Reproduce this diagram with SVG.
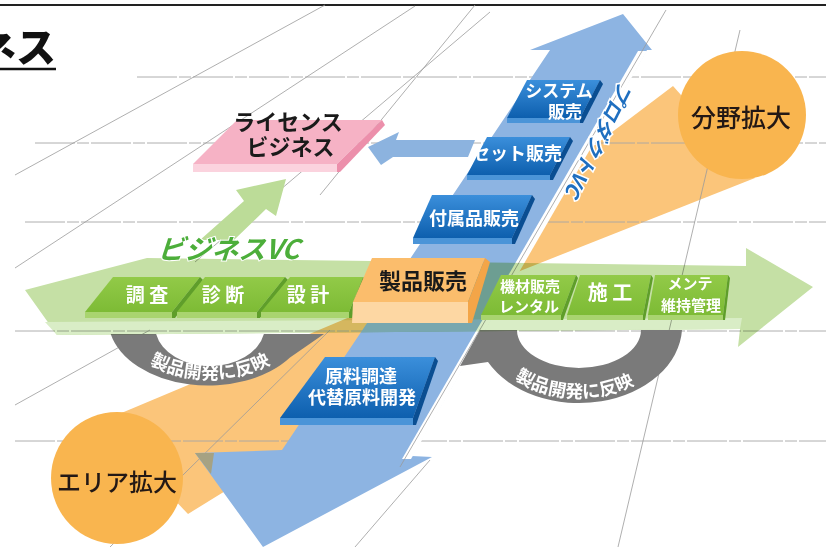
<svg xmlns="http://www.w3.org/2000/svg" width="826" height="547" viewBox="0 0 826 547">
<defs>
<linearGradient id="bgrad" x1="0" y1="0" x2="0" y2="1"><stop offset="0" stop-color="#3b8fdb"/><stop offset="1" stop-color="#0d5fae"/></linearGradient>
<linearGradient id="ggrad" x1="0" y1="0" x2="0" y2="1"><stop offset="0" stop-color="#92ca48"/><stop offset="1" stop-color="#7dbb35"/></linearGradient>
</defs>
<style>
text{font-family:"Noto Sans CJK JP","Noto Sans CJK SC",sans-serif}
.grid{stroke:#9a9a9a;stroke-width:0.8;fill:none}
.hgrid{stroke:#a5a5a5;stroke-width:0.9;fill:none;stroke-dasharray:40 2 12 2}
.beam{fill:#fbc57a}
.circ{fill:#f9b54f}
.gtop{fill:url(#ggrad)}
.gside{fill:#5f9e2a}
.gfront{fill:#a9d46f}
.btop{fill:url(#bgrad)}
.bside{fill:#0a4e92}
.bfront{fill:#4a94d8}
.wlab{fill:#fff;font-weight:700;text-anchor:middle}
.klab{fill:#1a1a1a;font-weight:700;text-anchor:middle}
.arc{fill:#7a7a7a}
.arctxt{fill:#fff;font-weight:700;font-size:18px}
</style>
<rect width="826" height="547" fill="#fff"/>
<line x1="0" y1="5" x2="826" y2="5" stroke="#222" stroke-width="2"/>
<g id="title">
<text x="56" y="62" font-size="40" font-weight="900" text-anchor="end" fill="#111">ネス</text>
<line x1="0" y1="69" x2="56" y2="69" stroke="#111" stroke-width="2.5"/>
</g>
<g id="beams">
<polygon class="beam" points="673,86 755,178 482,286 440,262"/>
<polygon class="beam" points="100,422 395,298 440,358 188,514"/>
</g>
<g id="gridlines">
<line class="hgrid" x1="137" y1="77" x2="826" y2="77"/>
<line class="hgrid" x1="35" y1="143" x2="826" y2="143"/>
<line class="hgrid" x1="25" y1="222" x2="826" y2="222"/>
<line class="hgrid" x1="15" y1="331" x2="826" y2="331"/>
<line class="hgrid" x1="15" y1="441" x2="826" y2="441"/>
<line class="grid" x1="15" y1="175" x2="325" y2="5"/>
<line class="grid" x1="15" y1="268" x2="415" y2="6"/>
<line class="grid" x1="15" y1="405" x2="150" y2="330"/>
<line class="grid" x1="110" y1="547" x2="330" y2="330"/>
<line class="grid" x1="195" y1="262" x2="490" y2="12"/>
<line class="grid" x1="320" y1="195" x2="475" y2="5"/>
<line class="grid" x1="740" y1="30" x2="618" y2="547"/>
<line class="grid" x1="355" y1="547" x2="430" y2="460"/>
</g>
<g id="product-arrow">
<polygon points="550,50 530,50 623,14 652,50 647,50 412,456 432,457 263,547 195,453 282,450" fill="#8db4e2"/>
<polygon points="195,453 214,453 211,474" fill="#a6a283"/>
<polygon points="638,51 647,51 411,459 402,459" fill="#fff"/>
<line class="grid" x1="666" y1="10" x2="400" y2="467"/>
</g>
<g id="arcs">
<path class="arc" d="M110.7,334 A100 66 0 0 0 290,357.6 L324,334 L263.9,334 A55 40 0 0 1 156.1,334 Z"/>
<path id="lp" d="M118,318 A92 61 0 0 0 302,318" fill="none"/>
<text class="arctxt"><textPath href="#lp" startOffset="50%" text-anchor="middle">製品開発に反映</textPath></text>
<path class="arc" d="M682,330 A103 77 0 0 1 488,362 L460,366 L480,330 L517,330 A62 38 0 0 0 641,330 Z"/>
<path id="rp" d="M485,328 A94 70 0 0 0 673,328" fill="none"/>
<text class="arctxt"><textPath href="#rp" startOffset="48%" text-anchor="middle">製品開発に反映</textPath></text>
</g>
<g id="business-arrow" style="mix-blend-mode:multiply">
<polygon points="25,290 147,258 746,266 746,248 813,287 738,347 740,329 57,335" fill="#c5e0a5"/>
<polygon points="45,322 742,318 740,329 57,335" fill="#d9edc6"/>
</g>
<g id="connectors">
<polygon points="200,240 244,201 236,190 286,179 276,216 266,209 234,240" fill="#bcdc98"/>
<polygon points="368,147 399,132 396,140 475,140 468,157 393,157 381,165" fill="#8cb3df"/>
</g>
<g id="license">
<polygon points="237,120 382,120 337,164 193,164" fill="#f6b2c5"/>
<polygon points="193,164 337,164 337,172 193,172" fill="#fbd3de"/>
<polygon points="382,120 385,125 340,172 337,172 337,164" fill="#ec8fab"/>
<text class="klab" x="288" y="130" font-size="22">ライセンス</text>
<text class="klab" x="290.5" y="155" font-size="22">ビジネス</text>
</g>
<g id="chosa">
<polygon class="gtop" points="113,277 200,277 172,312 85,312"/>
<polygon class="gfront" points="85,312 172,312 172,318 85,318"/>
<polygon class="gside" points="200,277 203,280 175,318 172,318 172,312"/>
<text class="wlab" x="147" y="302" font-size="19">調 査</text>
</g>
<g id="shindan">
<polygon class="gtop" points="205,277 285,277 257,312 177,312"/>
<polygon class="gfront" points="177,312 257,312 257,318 177,318"/>
<polygon class="gside" points="285,277 288,280 260,318 257,318 257,312"/>
<text class="wlab" x="223" y="302" font-size="19">診 断</text>
</g>
<g id="sekkei">
<polygon class="gtop" points="290,277 363,277 349,312 261,312"/>
<polygon class="gfront" points="261,312 349,312 349,318 261,318"/>
<polygon class="gside" points="363,277 366,280 352,318 349,318 349,312"/>
<text class="wlab" x="308" y="302" font-size="19">設 計</text>
</g>
<g id="kizai">
<polygon class="gtop" points="501,275 576,275 561,315 481,315"/>
<polygon class="gfront" points="481,315 561,315 561,320 481,320"/>
<polygon class="gside" points="576,275 578,278 563,320 561,320 561,315"/>
<text class="wlab" x="530" y="292" font-size="15">機材販売</text>
<text class="wlab" x="529" y="312" font-size="15">レンタル</text>
</g>
<g id="seko">
<polygon class="gtop" points="580,275 651,275 643,315 567,315"/>
<polygon class="gfront" points="567,315 643,315 643,320 567,320"/>
<polygon class="gside" points="651,275 653,278 645,320 643,320 643,315"/>
<text class="wlab" x="610" y="300" font-size="20">施 工</text>
</g>
<g id="mente">
<polygon class="gtop" points="655,275 728,275 723,315 648,315"/>
<polygon class="gfront" points="648,315 723,315 723,320 648,320"/>
<polygon class="gside" points="728,275 730,278 725,320 723,320 723,315"/>
<text class="wlab" x="690" y="289" font-size="15">メンテ</text>
<text class="wlab" x="691" y="311" font-size="15">維持管理</text>
</g>
<g id="seihin">
<polygon points="372,258 485,258 468,302 353,302" fill="#fbbd6c"/>
<polygon points="353,302 468,302 468,323 352,323" fill="#fdd7a3"/>
<polygon points="485,258 490,262 472,323 468,323 468,302" fill="#f3a548"/>
<text class="klab" x="423" y="288.5" font-size="22">製品販売</text>
</g>
<g id="system">
<polygon class="btop" points="527,80 600,80 580,118 507,118"/>
<polygon class="bfront" points="507,118 580,118 580,123 507,123"/>
<polygon class="bside" points="600,80 603,84 583,123 580,123 580,118"/>
<text class="wlab" x="559" y="97" font-size="17">システム</text>
<text class="wlab" x="565" y="118" font-size="17">販売</text>
</g>
<g id="set">
<polygon class="btop" points="487,137 570,137 550,175 467,175"/>
<polygon class="bfront" points="467,175 550,175 550,180 467,180"/>
<polygon class="bside" points="570,137 573,141 553,180 550,180 550,175"/>
<text class="wlab" x="517" y="160" font-size="18">セット販売</text>
</g>
<g id="fuzoku">
<polygon class="btop" points="432,195 532,195 512,238 413,238"/>
<polygon class="bfront" points="413,238 512,238 512,244 413,244"/>
<polygon class="bside" points="532,195 535,199 515,244 512,244 512,238"/>
<text class="wlab" x="474" y="225" font-size="18">付属品販売</text>
</g>
<g id="genryo">
<polygon class="btop" points="325,357 435,357 413,418 280,418"/>
<polygon class="bfront" points="280,418 413,418 413,425 280,425"/>
<polygon class="bside" points="435,357 438,361 416,425 413,425 413,418"/>
<text class="wlab" x="361" y="383" font-size="18">原料調達</text>
<text class="wlab" x="362" y="404" font-size="18">代替原料開発</text>
</g>
<g id="bunya">
<circle class="circ" cx="742" cy="115" r="64"/>
<text x="741" y="126.5" font-size="25" font-weight="500" text-anchor="middle" fill="#231815">分野拡大</text>
</g>
<g id="area">
<circle class="circ" cx="117" cy="478" r="66"/>
<text x="117" y="491" font-size="24" font-weight="500" text-anchor="middle" fill="#231815">エリア拡大</text>
</g>
<g id="labels">
<text transform="translate(228,259) skewX(-18)" font-size="27" font-weight="700" text-anchor="middle" fill="#4cae3a" stroke="#fff" stroke-width="2" paint-order="stroke">ビジネスVC</text>
<text transform="translate(600,140) rotate(116.6)" font-size="20" font-weight="700" font-style="italic" text-anchor="middle" dominant-baseline="central" fill="#1f6fc0" stroke="#fff" stroke-width="3" paint-order="stroke">プロダクトVC</text>
</g>
</svg>
